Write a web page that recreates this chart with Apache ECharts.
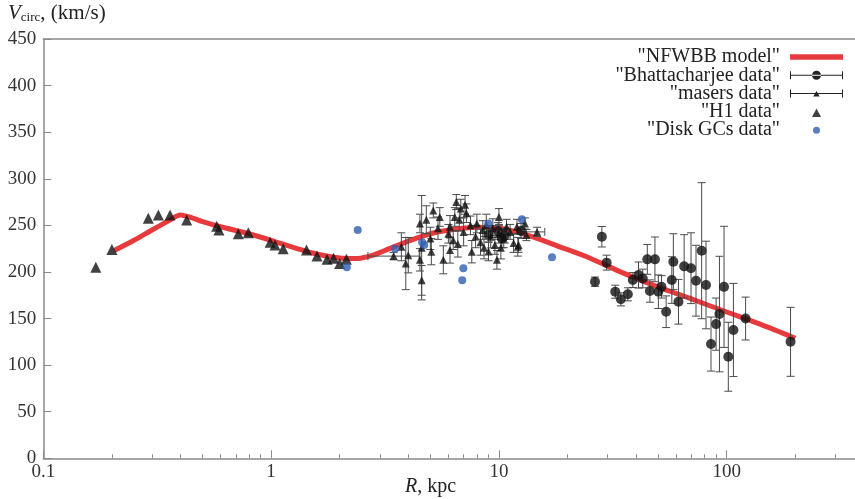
<!DOCTYPE html>
<html><head><meta charset="utf-8">
<script src="https://cdn.jsdelivr.net/npm/echarts@6/dist/echarts.min.js"></script>
<style>html,body{margin:0;padding:0;background:#fff}#c{width:855px;height:499px}</style>
</head><body><div id="c"></div>
<script>
// ---- data ----
const modelR = [0.205,0.25,0.3,0.35,0.4,0.45,0.5,0.6,0.8,1.0,1.3,1.6,2.0,2.4,2.8,3.3,4.0,5.0,6.5,8.0,10,12,14.7,18.5,25,35,51,70,100,140,200];
const modelV = [223,234,245,254,261,258,254,248.5,241,234,225,219,215,214.5,218,225,233,241,246,248,247,243,236,227,215,199,183,171,157,144,128.8];

const hiR = [0.17,0.2,0.289,0.32,0.36,0.426,0.577,0.59,0.718,0.794,0.99,1.04,1.13,1.43,1.59,1.76,1.88,2.0,2.14];
const hiV = [205,224,257.5,261,261,255.7,249,245,241,242,232,229,225,223.5,217,213.5,214.6,209,213.5];

const gcR = [2.15,2.4,3.5,4.6,4.7,6.98,6.9,8.98,12.6,17.1];
const gcV = [205,245,225,232,229,204,191,252,256.5,215.7];

const bhR = [26.4,28.3,29.7,32.4,34.3,36.8,38.7,41,42.8,44.8,46,48.4,50.1,51.7,54.2,57.4,58.3,61.4,65,69.7,73.3,77.6,81.1,85.3,89.8,92.9,97.3,101.6,107,121,190.6,9.0,10.3,12.5,9.9,10.6];
const bhV = [189.5,237.8,210,178.8,170.6,176,191.3,196.7,193,213.5,179.5,213.5,178.8,184,157.3,191.3,211,168,206,204,190.6,222.8,186,122.6,144,154.8,184,109,137.7,150,125,240,236,244,244,239];
const bhErr = [5,11,8,7,7,7,8,14,10,16,12,24,18,12,17,25,30,24,34,38,38,73,47,29,28,62,65,37,50,23,37,8,10,8,9,8];

const maserR = [3.45,3.73,3.9,4.0,4.5,4.5,4.58,4.58,4.8,5.0,5.05,5.15,5.5,5.7,6.0,6.1,6.1,6.3,6.4,6.5,6.7,6.8,7.1,7.2,7.6,8.0,8.5,9.2,9.6,9.8,10,10,10.8,12,12.2,13,13.2,14.7,7.5,7.9,8.3,8.8,9.4,10.5,11.2,11.6,7.0,6.6,5.4,8.6,9.0,10.2,12.1];
const maserV = [217,227,209,218,252,213,226,191,256,236,221.7,266,259,213,241,248.5,223.5,234,259,275,256,268,272,263,221.7,252,245,237.8,229,213,259,241,248.5,248.5,229,252,239.6,243,250,238,232,250,247,236,243,231,243,230,247,226,222,226,227];
const maserErr = [4,15,28,19,10,12,56,16,15,12,14,8,10,15,10,12,14,10,10,8,12,10,10,10,12,10,10,12,10,10,9,10,8,8,8,6,6,5,10,12,14,12,10,10,8,10,15,14,12,12,10,12,10];
const maserXLo = [2.66,0,0,0,0,0,0,0,0,0,0,0,0,0,0,0,0,0,0,0,0,0,0,0,0,0,0,0,0,0,0,0,0,0,0,0,0,12.4,0,0,0,0,0,0,0,0,0,0,0,0,0,0,0];
const maserXHi = [4.47,0,0,0,0,0,0,0,0,0,0,0,0,0,0,0,0,0,0,0,0,0,0,0,0,0,0,0,0,0,0,0,0,0,0,0,0,15.9,0,0,0,0,0,0,0,0,0,0,0,0,0,0,0];

const xMajorTicks = [0.1,1,10,100];
const xMinorTicks = [0.2,0.3,0.4,0.5,0.6,0.7,0.8,0.9,2,3,4,5,6,7,8,9,20,30,40,50,60,70,80,90,200,300];

const names = ['"NFWBB model"','"Bhattacharjee data"','"masers data"','"H1 data"','"Disk GCs data"'];

// ---- build ----
const FONT = 'Liberation Serif';
const zip = (a,b) => a.map((v,i)=>[v,b[i]]);
const bhErrData = bhR.map((r,i)=>[r,bhV[i],bhV[i]-bhErr[i],bhV[i]+bhErr[i],0,0]);
const maserErrData = maserR.map((r,i)=>[r,maserV[i],maserV[i]-maserErr[i],maserV[i]+maserErr[i],maserXLo[i],maserXHi[i]]);

function errRender(params, api){
  const x=api.value(0), y=api.value(1), lo=api.value(2), hi=api.value(3), xl=api.value(4), xh=api.value(5);
  const pl=api.coord([x,lo]), ph=api.coord([x,hi]);
  const st={stroke:'#4a4a4a',lineWidth:1};
  const c=4;
  const ch=[
    {type:'line',shape:{x1:pl[0],y1:pl[1],x2:ph[0],y2:ph[1]},style:st},
    {type:'line',shape:{x1:pl[0]-c,y1:pl[1],x2:pl[0]+c,y2:pl[1]},style:st},
    {type:'line',shape:{x1:ph[0]-c,y1:ph[1],x2:ph[0]+c,y2:ph[1]},style:st}
  ];
  if (xl>0 && xh>0){
    const a=api.coord([xl,y]), b=api.coord([xh,y]);
    ch.push({type:'line',shape:{x1:a[0],y1:a[1],x2:b[0],y2:b[1]},style:st});
    ch.push({type:'line',shape:{x1:a[0],y1:a[1]-c,x2:a[0],y2:a[1]+c},style:st});
    ch.push({type:'line',shape:{x1:b[0],y1:b[1]-c,x2:b[0],y2:b[1]+c},style:st});
  }
  return {type:'group',children:ch};
}

const B='M0 0M53 14';
const icons = {
  line: 'path://'+B+'M0 4.3H53V9.7H0Z',
  bh: 'path://'+B+'M0 6.5H53V7.5H0ZM0 3H1V11H0ZM52 3H53V11H52ZM22 7A4.5 4.5 0 1 0 31 7A4.5 4.5 0 1 0 22 7Z',
  ms: 'path://'+B+'M0 6.5H53V7.5H0ZM0 3H1V11H0ZM52 3H53V11H52ZM23.3 10L26.5 4.5L29.7 10Z',
  hi: 'path://'+B+'M22 12L26.5 3.5L31 12Z',
  gc: 'path://'+B+'M23 7A3.5 3.5 0 1 0 30 7A3.5 3.5 0 1 0 23 7Z'
};

const axisCol='#8a8a8a';

const chart = echarts.init(document.getElementById('c'));
chart.setOption({
  animation:false,
  backgroundColor:'#fff',
  textStyle:{fontFamily:FONT},
  grid:{left:43.3, top:39, width:820.6, height:419.3, show:false, containLabel:false, outerBoundsMode:'none'},
  xAxis:[
    {type:'log', min:0.1, max:400, position:'bottom', splitLine:{show:false},
      axisLine:{show:true,lineStyle:{color:axisCol,width:1.5}},
      axisTick:{show:true,inside:true,length:8,customValues:xMajorTicks,lineStyle:{color:axisCol,width:1}},
      axisLabel:{show:true,customValues:xMajorTicks,margin:4,color:'#333',fontFamily:FONT,fontSize:19,
        formatter:v=>String(+(+v).toPrecision(3))}},
    {type:'log', min:0.1, max:400, position:'bottom', splitLine:{show:false},
      axisLine:{show:false},
      axisTick:{show:true,inside:true,length:4,customValues:xMinorTicks,lineStyle:{color:axisCol,width:1}},
      axisLabel:{show:false}},
    {type:'log', min:0.1, max:400, position:'top', splitLine:{show:false},
      axisLine:{show:true,lineStyle:{color:axisCol,width:1.5}},
      axisTick:{show:false}, axisLabel:{show:false}}
  ],
  yAxis:{type:'value',min:0,max:450,interval:50,splitLine:{show:false},
    axisLine:{show:true,lineStyle:{color:axisCol,width:1.5}},
    axisTick:{show:true,inside:true,length:8,lineStyle:{color:axisCol,width:1}},
    axisLabel:{margin:7,color:'#333',fontFamily:FONT,fontSize:19}},
  legend:{orient:'vertical',right:12,top:47,padding:0,align:'right',itemWidth:53,itemHeight:14,itemGap:-1.7,
    textStyle:{fontFamily:FONT,fontSize:20,lineHeight:16,color:'#222',padding:[0,5,0,0]},
    selectedMode:false,
    data:[
      {name:names[0],icon:icons.line,itemStyle:{color:'#e63a3c',borderWidth:0}},
      {name:names[1],icon:icons.bh,itemStyle:{color:'#222',borderWidth:0}},
      {name:names[2],icon:icons.ms,itemStyle:{color:'#222',borderWidth:0}},
      {name:names[3],icon:icons.hi,itemStyle:{color:'#111',borderWidth:0}},
      {name:names[4],icon:icons.gc,itemStyle:{color:'#2f5fb3',borderWidth:0}}
    ]},
  graphic:[
    {type:'text',left:8,top:3,style:{rich:{
        v:{fontFamily:FONT,fontStyle:'italic',fontSize:21,fill:'#222'},
        s:{fontFamily:FONT,fontSize:13,fill:'#222',verticalAlign:'bottom',padding:[7,0,0,0]},
        t:{fontFamily:FONT,fontSize:21,fill:'#222'}},
      text:'{v|V}{s|circ}{t|, (km/s)}'}},
    {type:'text',left:405,top:477,style:{rich:{
        r:{fontFamily:FONT,fontStyle:'italic',fontSize:20,fill:'#222'},
        t:{fontFamily:FONT,fontSize:20,fill:'#222'}},
      text:'{r|R}{t|, kpc}'}}
  ],
  series:[
    {name:names[0],type:'line',data:zip(modelR,modelV),showSymbol:false,smooth:0.25,
      lineStyle:{color:'#e63a3c',width:5},itemStyle:{color:'#e63a3c'},z:1},
    {name:names[1],type:'custom',renderItem:errRender,data:bhErrData,encode:{x:0,y:1},z:2},
    {name:names[2],type:'custom',renderItem:errRender,data:maserErrData,encode:{x:0,y:1},z:2},
    {name:names[1],type:'scatter',data:zip(bhR,bhV),symbol:'circle',symbolSize:10,itemStyle:{color:'#111'},z:3},
    {name:names[2],type:'scatter',data:zip(maserR,maserV),symbol:'triangle',symbolSize:8,itemStyle:{color:'#111'},z:3},
    {name:names[3],type:'scatter',data:zip(hiR,hiV),symbol:'triangle',symbolSize:11,itemStyle:{color:'#111'},z:3},
    {name:names[4],type:'scatter',data:zip(gcR,gcV),symbol:'circle',symbolSize:8,itemStyle:{color:'#2f5fb3'},z:4}
  ]
});
</script></body></html>
